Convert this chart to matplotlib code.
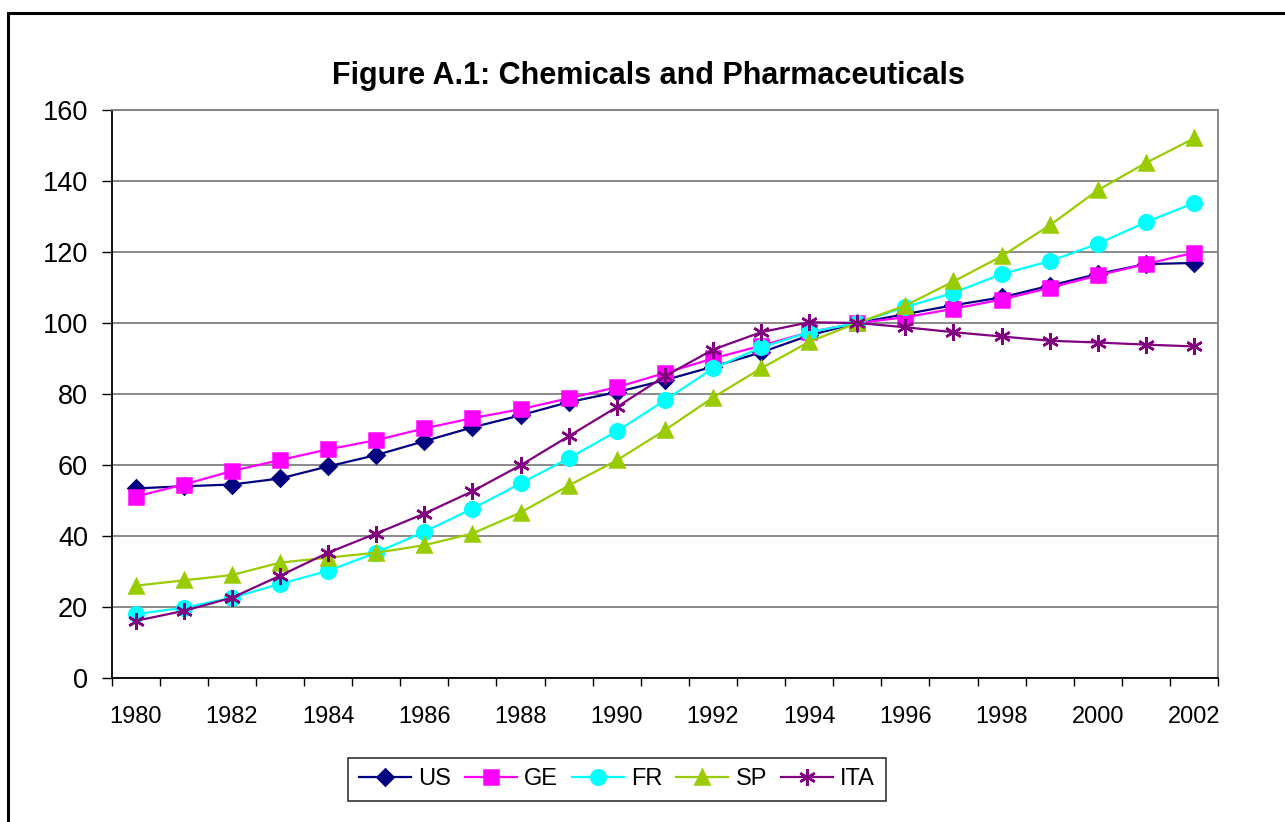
import matplotlib
matplotlib.use("Agg")
import matplotlib.pyplot as plt
from matplotlib.patches import Rectangle
import numpy as np

plt.rcParams['font.family'] = ['Liberation Sans', 'DejaVu Sans']

years = list(range(1980, 2003))

us = [53.4, 54.0, 54.5, 56.2, 59.6, 62.8, 66.7, 70.6, 74.0, 77.7, 80.5, 83.9,
      87.7, 91.7, 96.5, 100, 102.5, 105.0, 107.2, 110.5, 113.8, 116.6, 116.9]
ge = [51.1, 54.5, 58.3, 61.4, 64.4, 67.0, 70.3, 73.2, 75.7, 78.8, 81.9, 85.9,
      90.0, 93.6, 97.4, 100, 101.6, 104.0, 106.6, 109.9, 113.4, 116.6, 119.8]
fr = [18.0, 19.8, 22.6, 26.5, 30.2, 35.3, 41.2, 47.7, 54.8, 61.9, 69.5, 78.2,
      87.2, 93.1, 97.4, 100, 104.5, 108.5, 113.8, 117.4, 122.3, 128.4, 133.8]
sp = [26.0, 27.5, 29.0, 32.5, 33.9, 35.3, 37.4, 40.7, 46.6, 54.2, 61.3, 69.8,
      79.0, 87.2, 94.7, 100, 104.9, 111.7, 118.8, 127.5, 137.4, 145.1, 152.0]
ita = [16.1, 18.9, 22.6, 28.8, 35.3, 40.7, 46.3, 52.6, 59.9, 68.1, 76.3, 85.0,
       92.5, 97.4, 100.2, 100, 98.8, 97.4, 96.2, 95.0, 94.5, 93.9, 93.4]

series = [
    ("US", us, "#000080", "D", 8.5),
    ("GE", ge, "#FF00FF", "s", 10.5),
    ("FR", fr, "#00FFFF", "o", 10.5),
    ("SP", sp, "#99CC00", "^", 10.5),
    ("ITA", ita, "#800080", (6, 2, 0), 12),
]

fig = plt.figure(figsize=(12.85, 8.22), dpi=100)
ax = fig.add_axes([0.0869, 0.1752, 0.9479 - 0.0869, 0.8662 - 0.1752])

x = np.arange(len(years))
for name, vals, col, mk, ms in series:
    ax.plot(x, vals, color=col, linewidth=1.6, marker=mk, markersize=ms,
            markerfacecolor=col, markeredgecolor=col, markeredgewidth=1.8,
            label=name)

ax.set_xlim(-0.5, len(years) - 0.5)
ax.set_ylim(0, 160)
ax.set_yticks(range(0, 161, 20))
ax.tick_params(axis='y', labelsize=19.5, length=7, width=1, direction='out', pad=10)
ax.yaxis.grid(True, color='#808080', linewidth=1.3)
ax.set_axisbelow(True)

ax.set_xticks(x[::2])
ax.set_xticklabels([str(y) for y in years[::2]])
ax.set_xticks(np.arange(-0.5, len(years), 1), minor=True)
ax.tick_params(axis='x', which='major', length=0, labelsize=17, pad=20)
ax.tick_params(axis='x', which='minor', length=6, width=1, direction='out')

ax.spines['left'].set_color('black')
ax.spines['bottom'].set_color('black')
ax.spines['top'].set_color('#808080')
ax.spines['right'].set_color('#808080')
for s in ax.spines.values():
    s.set_linewidth(1.3)

fig.text(0.505, 0.907, "Figure A.1: Chemicals and Pharmaceuticals",
         ha='center', va='center', fontsize=22, fontweight='bold')

leg = fig.legend(loc='center', bbox_to_anchor=(0.480, 0.052), ncol=5,
                 fontsize=17, frameon=True, fancybox=False, handlelength=2.2,
                 handletextpad=0.3, columnspacing=0.6, borderpad=0.45)
leg.get_frame().set_edgecolor('black')
leg.get_frame().set_linewidth(1.2)

# outer chart border (cut off at right and bottom)
fig.patches.append(Rectangle((8 / 1285, -0.1), 1.2, 1 - 13 / 822 + 0.1,
                             transform=fig.transFigure, fill=False,
                             edgecolor='black', linewidth=2.2))

plt.savefig("out.png", dpi=100)
